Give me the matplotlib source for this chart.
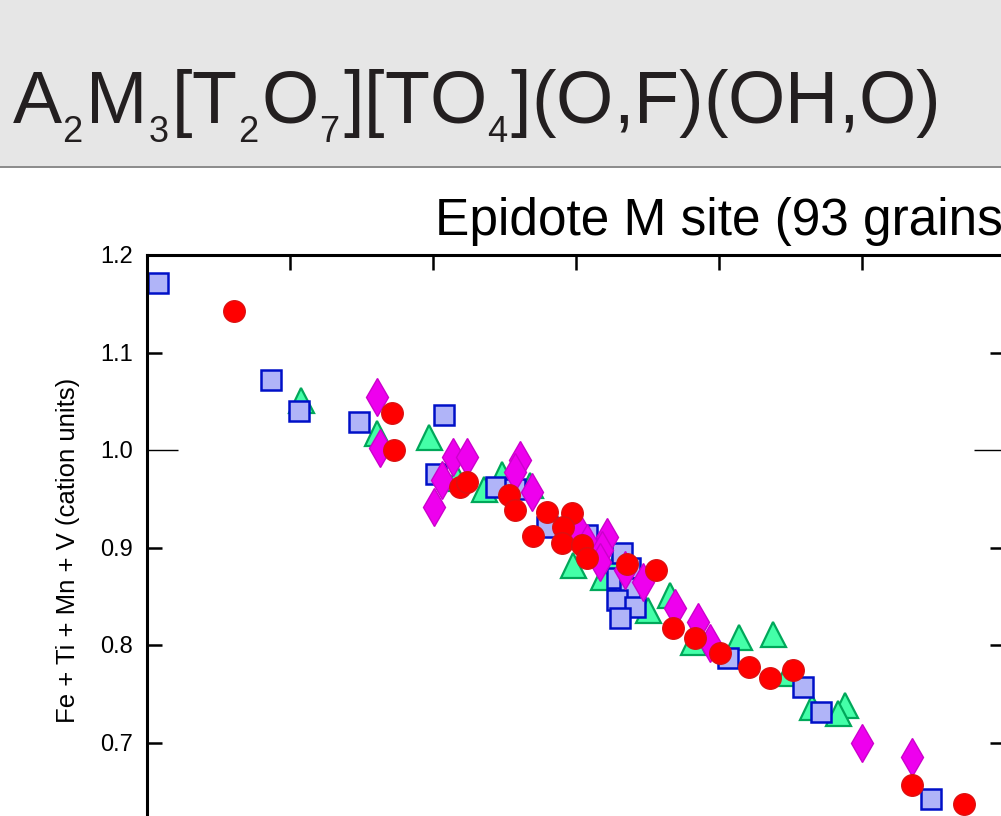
import matplotlib
matplotlib.use('Agg')
import matplotlib.pyplot as plt
from matplotlib.patches import Rectangle
from matplotlib.lines import Line2D
from matplotlib.ticker import FixedLocator, FixedFormatter

plt.rcParams['font.family'] = ['Liberation Sans', 'DejaVu Sans']
plt.rcParams['mathtext.fontset'] = 'custom'
plt.rcParams['mathtext.rm'] = 'Liberation Sans'
plt.rcParams['mathtext.it'] = 'Liberation Sans'

# Al (x) vs Fe + Ti + Mn + V (y), cation units
sq_x = [1.808, 1.887, 1.906, 1.948, 2.008, 2.002, 2.044, 2.057, 2.080, 2.108,
        2.132, 2.138, 2.129, 2.138, 2.129, 2.141, 2.131, 2.206, 2.259, 2.271, 2.348]
sq_y = [1.171, 1.072, 1.040, 1.029, 1.036, 0.975, 0.962, 0.960, 0.921, 0.913,
        0.894, 0.879, 0.869, 0.858, 0.846, 0.839, 0.828, 0.787, 0.757, 0.731, 0.642]

ci_x = [1.861, 1.971, 1.973, 2.019, 2.024, 2.053, 2.057, 2.070, 2.080, 2.097,
        2.091, 2.090, 2.104, 2.108, 2.136, 2.156, 2.168, 2.183, 2.201, 2.221,
        2.236, 2.252, 2.335, 2.371]
ci_y = [1.143, 1.038, 1.000, 0.962, 0.967, 0.954, 0.938, 0.912, 0.936, 0.935,
        0.921, 0.905, 0.903, 0.889, 0.883, 0.877, 0.817, 0.807, 0.792, 0.777,
        0.766, 0.774, 0.656, 0.637]

tr_x = [1.908, 1.961, 1.997, 2.017, 2.036, 2.048, 2.068, 2.098, 2.119, 2.129,
        2.150, 2.166, 2.182, 2.214, 2.238, 2.248, 2.265, 2.288, 2.283]
tr_y = [1.051, 1.017, 1.013, 0.971, 0.960, 0.975, 0.964, 0.882, 0.870, 0.887,
        0.836, 0.851, 0.803, 0.808, 0.811, 0.771, 0.736, 0.738, 0.730]

di_x = [1.961, 1.963, 2.014, 2.024, 2.006, 2.001, 2.061, 2.057, 2.069, 2.103,
        2.108, 2.122, 2.118, 2.117, 2.134, 2.147, 2.169, 2.185, 2.194, 2.300, 2.335]
di_y = [1.054, 1.002, 0.993, 0.993, 0.969, 0.942, 0.990, 0.977, 0.957, 0.915,
        0.905, 0.911, 0.897, 0.885, 0.877, 0.865, 0.838, 0.824, 0.802, 0.700, 0.685]

y_major = [0.6, 0.7, 0.8, 0.9, 1.1, 1.2]
y_major_labels = ['', '0.7', '0.8', '0.9', '1.1', '1.2']
x_ticks = [1.8, 1.9, 2.0, 2.1, 2.2, 2.3, 2.4]

W, H = 1001, 816
fig = plt.figure(figsize=(W / 100, H / 100), dpi=100)

# header band
fig.patches.append(Rectangle((0, 1 - 166 / H), 1, 166 / H, transform=fig.transFigure,
                             facecolor='#e6e6e6', edgecolor='none', zorder=0))
fig.lines.append(Line2D([0, 1], [1 - 167 / H, 1 - 167 / H], transform=fig.transFigure,
                        color='#777777', lw=1.2))
# nested subscripts give smaller, lower indices like the original
formula = (r'A$_{{}_2}$M$_{{}_3}$[T$_{{}_2}$O$_{{}_7}$]'
           r'[TO$_{{}_4}$](O,F)(OH,O)')
fig.text(12 / W, 1 - 123 / H, formula,
         fontsize=53, color='#231f20', ha='left', va='baseline')

fig.text(435 / W, 1 - 235 / H, 'Epidote M site (93 grains)',
         fontsize=37, ha='left', va='baseline')

# axes: 1.8 at x=147 px, 2.4 at x=1005 px; 1.2 at y=255 px, 0.6 at y=840 px
x0, x1 = 147, 1005
y0, y1 = 255, 840
ax = fig.add_axes([x0 / W, 1 - y1 / H, (x1 - x0) / W, (y1 - y0) / H])
ax.set_xlim(1.8, 2.4)
ax.set_ylim(0.6, 1.2)

ax.plot(tr_x, tr_y, '^', ms=18, mfc='#44ffa8', mec='#00a85a', mew=1.6, ls='none')
ax.plot(sq_x, sq_y, 's', ms=14, mfc='#b0b4f8', mec='#0010c8', mew=1.8, ls='none')
ax.plot(di_x, di_y, 'd', ms=19, mfc='#ee00ee', mec='#cc00cc', mew=1.0, ls='none')
ax.plot(ci_x, ci_y, 'o', ms=15.5, mfc='#ff0000', mec='#dd1010', mew=1.0, ls='none')

for s in ax.spines.values():
    s.set_linewidth(2.2)

ax.set_xticks(x_ticks)
ax.set_yticks(y_major)
ax.set_yticklabels(y_major_labels)
# the 1.0 tick is drawn longer and thinner
ax.yaxis.set_minor_locator(FixedLocator([1.0]))
ax.yaxis.set_minor_formatter(FixedFormatter(['1.0']))
ax.tick_params(axis='both', which='major', direction='in', length=11, width=1.8,
               top=True, right=True, labelsize=17, pad=10)
ax.tick_params(axis='y', which='minor', direction='in', length=22, width=1.0,
               left=True, right=True, labelleft=True, labelsize=17, pad=10)
ax.tick_params(axis='x', labelbottom=False)

fig.text(68 / W, 1 - 550 / H, 'Fe + Ti + Mn + V (cation units)', rotation=90,
         fontsize=18.5, ha='center', va='center')

fig.savefig('out.png', dpi=100)
